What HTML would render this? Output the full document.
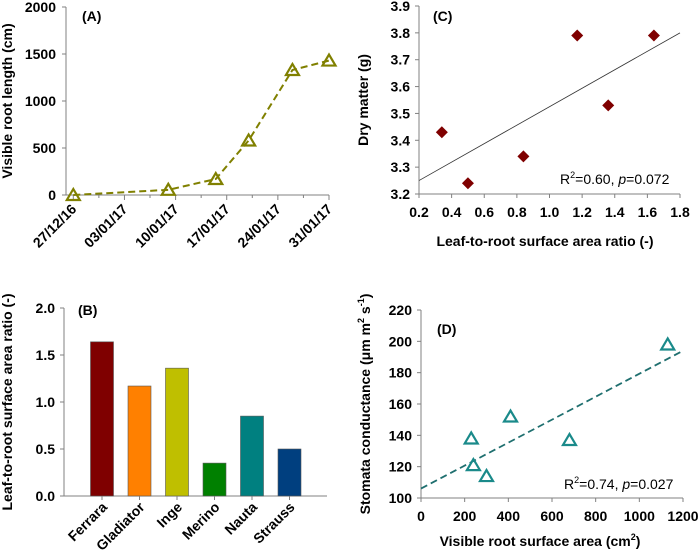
<!DOCTYPE html>
<html><head><meta charset="utf-8"><style>
html,body{margin:0;padding:0;background:#fff;}
svg{display:block;font-family:"Liberation Sans",Arial,sans-serif;}
</style></head><body>
<svg id="c" width="700" height="555" viewBox="0 0 700 555"></svg>
<script>
// Panel A data
const aDays = [0, 13, 19.5, 24, 30, 35];
const aValues = [0, 55, 170, 580, 1330, 1430];
const aTickDays = [0, 7, 14, 21, 28, 35];
const aTickLabels = ["27/12/16","03/01/17","10/01/17","17/01/17","24/01/17","31/01/17"];
const aYTicks = [0, 500, 1000, 1500, 2000];
// Panel B data
const bCats = ["Ferrara","Gladiator","Inge","Merino","Nauta","Strauss"];
const bValues = [1.64, 1.17, 1.36, 0.35, 0.85, 0.50];
const bColors = ["#7f0000","#ff8000","#bfbf00","#008000","#008080","#003f7f"];
const bYTicks = [0.0, 0.5, 1.0, 1.5, 2.0];
// Panel C data
const cX = [0.34, 0.50, 0.84, 1.17, 1.36, 1.64];
const cY = [3.43, 3.24, 3.34, 3.79, 3.53, 3.79];
const cFit = [[0.2, 3.25], [1.8, 3.80]];
const cXTicks = [0.2,0.4,0.6,0.8,1.0,1.2,1.4,1.6,1.8];
const cYTicks = [3.2,3.3,3.4,3.5,3.6,3.7,3.8,3.9];
// Panel D data
const dX = [230, 240, 300, 410, 680, 1130];
const dY = [138, 121, 114, 152, 137, 198];
const dFit = [[0, 106], [1200, 194]];
const dXTicks = [0,200,400,600,800,1000,1200];
const dYTicks = [100,120,140,160,180,200,220];

const svg = document.getElementById('c');
const NS = 'http://www.w3.org/2000/svg';
function el(tag, attrs, text){
  const e = document.createElementNS(NS, tag);
  for (const k in attrs) e.setAttribute(k, attrs[k]);
  if (text !== undefined) e.textContent = text;
  svg.appendChild(e);
  return e;
}
function lin(d0,d1,r0,r1){return v=>r0+(v-d0)*(r1-r0)/(d1-d0);}
const AX = '#808080';
function tri(x,y,col){
  return el('polygon',{points:`${x},${y-6} ${x-6.5},${y+5} ${x+6.5},${y+5}`,fill:'none',stroke:col,'stroke-width':2.2});
}

// ---------- Panel A ----------
{
  const x = lin(-1,35,66,329), y = lin(0,2000,195,7);
  let e = el('line',{x1:66,y1:7,x2:66,y2:195,stroke:AX});
   
  e = el('line',{x1:66,y1:195,x2:329,y2:195,stroke:AX});
   
  aYTicks.forEach(v=>{
    el('line',{x1:62,y1:y(v),x2:66,y2:y(v),stroke:AX});
    e = el('text',{x:56,y:y(v)+5,'text-anchor':'end','font-size':14,'font-weight':'bold'},String(v));
     
  });
  for(let d=0; d<=35; d+=3.5){ el('line',{x1:x(d),y1:195,x2:x(d),y2:d%7===0?200:198,stroke:AX}); }
  aTickDays.forEach((d,i)=>{
    e = el('text',{x:x(d)+4,y:210,'text-anchor':'end','font-size':14,'font-weight':'bold',transform:`rotate(-45 ${x(d)+4} 210)`},aTickLabels[i]);
     
  });
  const pts = aDays.map((d,i)=>`${x(d)},${y(aValues[i])}`).join(' ');
  e = el('polyline',{points:pts,fill:'none',stroke:'#808000','stroke-width':2,'stroke-dasharray':'7,4'});
   
  aDays.forEach((d,i)=>{ e = tri(x(d),y(aValues[i]),'#808000');
      });
  e = el('text',{x:82,y:21,'font-size':14,'font-weight':'bold'},'(A)');
   
  e = el('text',{x:0,y:0,'font-size':14,'font-weight':'bold','text-anchor':'middle',transform:'translate(12 101) rotate(-90)'},'Visible root length (cm)');
   
}

// ---------- Panel B ----------
{
  const y = lin(0,2,496,308);
  let e = el('line',{x1:64,y1:308,x2:64,y2:496,stroke:AX});
   
  e = el('line',{x1:64,y1:496,x2:327,y2:496,stroke:AX});
   
  bYTicks.forEach(v=>{
    el('line',{x1:60,y1:y(v),x2:64,y2:y(v),stroke:AX});
    e = el('text',{x:55,y:y(v)+5,'text-anchor':'end','font-size':14,'font-weight':'bold'},v.toFixed(1));
     
  });
  bCats.forEach((c,i)=>{
    const cx = 102 + i*37.5;
    e = el('rect',{x:cx-11.5,y:y(bValues[i]),width:23,height:496-y(bValues[i]),fill:bColors[i],stroke:'#555','stroke-width':0.6});
     
    el('line',{x1:cx,y1:496,x2:cx,y2:500,stroke:AX});
    e = el('text',{x:cx+6,y:508,'text-anchor':'end','font-size':14,'font-weight':'bold',transform:`rotate(-45 ${cx+6} 508)`},c);
     
  });
  e = el('text',{x:78,y:315,'font-size':14,'font-weight':'bold'},'(B)');
   
  e = el('text',{x:0,y:0,'font-size':14,'font-weight':'bold','text-anchor':'middle',transform:'translate(12 402) rotate(-90)'},'Leaf-to-root surface area ratio (-)');
   
}

// ---------- Panel C ----------
{
  const x = lin(0.2,1.8,419,680), y = lin(3.2,3.9,194,6);
  let e = el('line',{x1:419,y1:6,x2:419,y2:194,stroke:AX});
   
  e = el('line',{x1:419,y1:194,x2:680,y2:194,stroke:AX});
   
  cYTicks.forEach(v=>{
    el('line',{x1:415,y1:y(v),x2:419,y2:y(v),stroke:AX});
    e = el('text',{x:410,y:y(v)+5,'text-anchor':'end','font-size':14,'font-weight':'bold'},v.toFixed(1));
     
  });
  cXTicks.forEach(v=>{
    el('line',{x1:x(v),y1:194,x2:x(v),y2:198,stroke:AX});
    e = el('text',{x:x(v),y:217,'text-anchor':'middle','font-size':14,'font-weight':'bold'},v.toFixed(1));
     
  });
  e = el('line',{x1:x(cFit[0][0]),y1:y(cFit[0][1]),x2:x(cFit[1][0]),y2:y(cFit[1][1]),stroke:'#333','stroke-width':0.8});
   
  cX.forEach((v,i)=>{
    const px=x(v), py=y(cY[i]);
    e = el('polygon',{points:`${px},${py-6} ${px+6},${py} ${px},${py+6} ${px-6},${py}`,fill:'#7f0000'});
     
  });
  e = el('text',{x:433,y:21,'font-size':14,'font-weight':'bold'},'(C)');
   
  e = el('text',{x:560,y:184,'font-size':14});
  e.innerHTML = 'R<tspan dy="-6" font-size="9">2</tspan><tspan dy="6">=0.60, </tspan><tspan font-style="italic">p</tspan>=0.072';
   
  e = el('text',{x:545,y:246,'text-anchor':'middle','font-size':14,'font-weight':'bold'},'Leaf-to-root surface area ratio (-)');
   
  e = el('text',{x:0,y:0,'font-size':14,'font-weight':'bold','text-anchor':'middle',transform:'translate(368 100) rotate(-90)'},'Dry matter (g)');
   
}

// ---------- Panel D ----------
{
  const x = lin(0,1200,421,683), y = lin(100,220,498,310);
  let e = el('line',{x1:421,y1:310,x2:421,y2:498,stroke:AX});
   
  e = el('line',{x1:421,y1:498,x2:683,y2:498,stroke:AX});
   
  dYTicks.forEach(v=>{
    el('line',{x1:417,y1:y(v),x2:421,y2:y(v),stroke:AX});
    e = el('text',{x:412,y:y(v)+5,'text-anchor':'end','font-size':14,'font-weight':'bold'},String(v));
     
  });
  dXTicks.forEach(v=>{
    el('line',{x1:x(v),y1:498,x2:x(v),y2:502,stroke:AX});
    e = el('text',{x:x(v),y:521,'text-anchor':'middle','font-size':14,'font-weight':'bold'},String(v));
     
  });
  e = el('line',{x1:x(dFit[0][0]),y1:y(dFit[0][1]),x2:x(dFit[1][0]),y2:y(dFit[1][1]),stroke:'#1f6f6f','stroke-width':1.8,'stroke-dasharray':'7,4'});
   
  dX.forEach((v,i)=>{ e = tri(x(v),y(dY[i]),'#1a8a8a');
      });
  e = el('text',{x:437,y:334,'font-size':14,'font-weight':'bold'},'(D)');
   
  e = el('text',{x:564,y:489,'font-size':14});
  e.innerHTML = 'R<tspan dy="-6" font-size="9">2</tspan><tspan dy="6">=0.74, </tspan><tspan font-style="italic">p</tspan>=0.027';
   
  e = el('text',{x:540,y:546,'text-anchor':'middle','font-size':14,'font-weight':'bold'});
  e.innerHTML = 'Visible root surface area (cm<tspan dy="-6" font-size="9">2</tspan><tspan dy="6">)</tspan>';
   
  e = el('text',{x:0,y:0,'font-size':14,'font-weight':'bold','text-anchor':'middle',transform:'translate(370 404) rotate(-90)'});
  e.innerHTML = 'Stomata conductance (μm m<tspan dy="-6" font-size="9">2</tspan><tspan dy="6"> s</tspan><tspan dy="-6" font-size="9">-1</tspan><tspan dy="6">)</tspan>';
   
}
</script>
</body></html>
